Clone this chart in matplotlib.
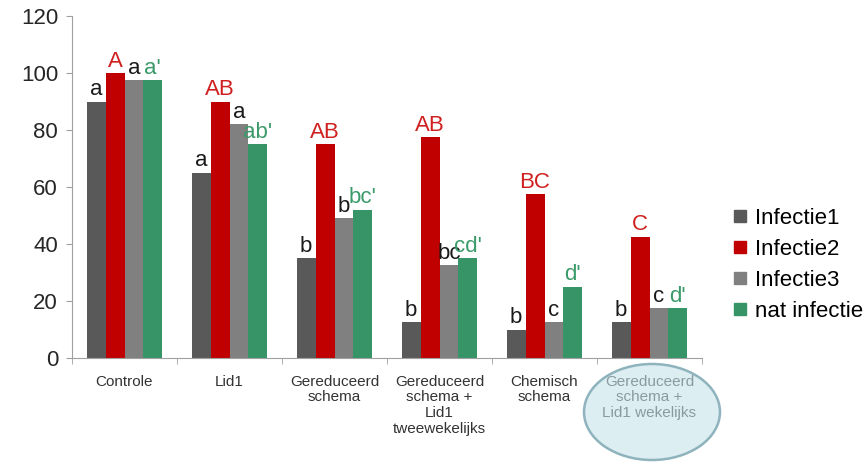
import matplotlib
matplotlib.use("Agg")
import matplotlib.pyplot as plt
import numpy as np
from matplotlib.patches import Ellipse
from matplotlib.lines import Line2D

plt.rcParams['font.family'] = ['Liberation Sans', 'DejaVu Sans']

categories = ["Controle", "Lid1", "Gereduceerd\nschema",
              "Gereduceerd\nschema +\nLid1\ntweewekelijks",
              "Chemisch\nschema", "Gereduceerd\nschema +\nLid1 wekelijks"]
series_names = ["Infectie1", "Infectie2", "Infectie3", "nat infectie"]
infectie1 = [90, 65, 35, 12.5, 10, 12.5]
infectie2 = [100, 90, 75, 77.5, 57.5, 42.5]
infectie3 = [97.5, 82, 49, 32.5, 12.5, 17.5]
nat_infectie = [97.5, 75, 52, 35, 25, 17.5]
letters1 = ["a", "a", "b", "b", "b", "b"]
letters2 = ["A", "AB", "AB", "AB", "BC", "C"]
letters3 = ["a", "a", "b", "bc", "c", "c"]
letters_nat = ["a'", "ab'", "bc'", "cd'", "d'", "d'"]
yticks = [0, 20, 40, 60, 80, 100, 120]

values = [infectie1, infectie2, infectie3, nat_infectie]
letters = [letters1, letters2, letters3, letters_nat]
bar_colors = ["#595959", "#C00000", "#808080", "#379467"]
label_colors = ["#1a1a1a", "#D01F1F", "#1a1a1a", "#3A9A6A"]

fig = plt.figure(figsize=(8.66, 4.66), dpi=100)
ax = fig.add_axes([72/866, 1-358/466, 630/866, 342/466])

x = np.arange(len(categories))
w = 0.18
for i, (vals, labs) in enumerate(zip(values, letters)):
    pos = x + (i - 1.5) * w
    ax.bar(pos, vals, width=w, color=bar_colors[i], label=series_names[i], zorder=2)
    for p, v, t in zip(pos, vals, labs):
        ax.annotate(t, (p, v), xytext=(0, 1), textcoords="offset points",
                    ha="center", va="bottom", fontsize=16, color=label_colors[i])

ax.set_xlim(-0.5, len(categories) - 0.5)
ax.set_ylim(0, 120)
ax.set_yticks(yticks)
ax.tick_params(axis='y', labelsize=16, length=4, color="#A0A0A0", labelcolor="#262626", pad=6)

ax.set_xticks(x)
ax.set_xticklabels(categories, fontsize=11, color="#333333", linespacing=1.15)
ax.tick_params(axis='x', which='major', length=0, pad=12)
ax.set_xticks(np.arange(-0.5, len(categories), 1.0), minor=True)
ax.tick_params(axis='x', which='minor', length=4, color="#A0A0A0")
ax.get_xticklabels()[-1].set_color("#8A9A9E")

for s in ["top", "right"]:
    ax.spines[s].set_visible(False)
for s in ["left", "bottom"]:
    ax.spines[s].set_color("#A0A0A0")

ell = Ellipse((652/866, 1-412/466), 136/866, 96/466, transform=fig.transFigure,
              facecolor="#DDEEF2", edgecolor="#8FB3BD", linewidth=1.8, zorder=0)
fig.add_artist(ell)
ax.set_zorder(1)
ax.patch.set_alpha(0)

handles = [Line2D([0], [0], marker='s', linestyle='none', markersize=8,
                  markerfacecolor=c, markeredgecolor=c) for c in bar_colors]
fig.legend(handles, series_names, loc="center left",
           bbox_to_anchor=(722/866, 1-265/466), frameon=False, fontsize=16,
           handlelength=0.6, handletextpad=0.4, labelspacing=0.45, borderpad=0)

fig.savefig("out.png", dpi=100)
